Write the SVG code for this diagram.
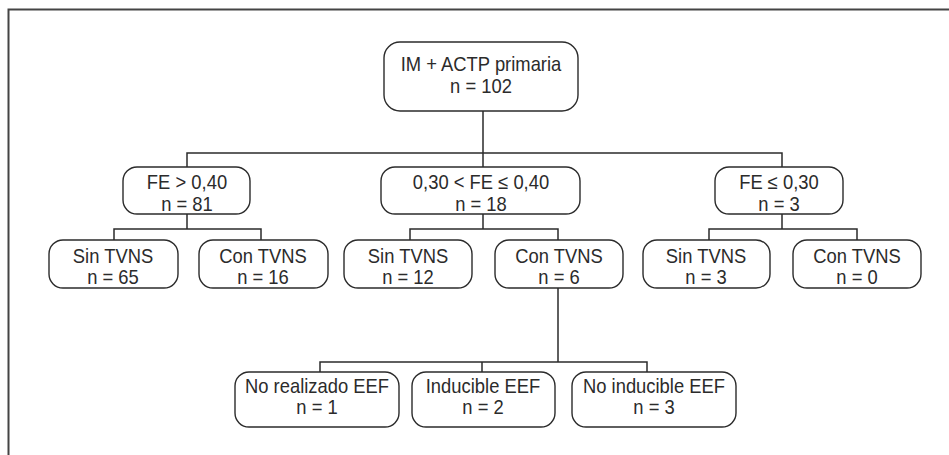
<svg xmlns="http://www.w3.org/2000/svg" width="949" height="455" viewBox="0 0 949 455">
<style>
.box{fill:#fff;stroke:#2b2b2b;stroke-width:1.4}
.t{font-family:"Liberation Sans",Arial,sans-serif;font-size:20px;fill:#2b2b2b;text-anchor:middle}
.c{fill:none;stroke:#2b2b2b;stroke-width:1.5}
</style>
<rect x="0" y="0" width="949" height="455" fill="#fff"/>
<path d="M8.5 456 V9.5 H950" fill="none" stroke="#444" stroke-width="2"/>
<g id="connectors" class="c">
<path d="M483 111 V153 M187 167 V153 H782 V167 M483 153 V167"/>
<path d="M187 214 V229 M114 240 V229 H261 V240"/>
<path d="M483 214 V229 M410 240 V229 H558 V240"/>
<path d="M782 214 V229 M709 240 V229 H857 V240"/>
<path d="M558 288 V362 M320 372 V362 H647 V372 M482 362 V372"/>
</g>
<g id="root"><rect class="box" x="384" y="42" width="194" height="69" rx="16"/>
<text class="t" transform="matrix(0.92 0 0 1 481 0)" y="71">IM + ACTP primaria</text><text class="t" transform="matrix(0.92 0 0 1 481 0)" y="93">n = 102</text></g>
<g id="fe_gt040"><rect class="box" x="123" y="167" width="127" height="47" rx="14"/>
<text class="t" transform="matrix(0.92 0 0 1 187 0)" y="189">FE &gt; 0,40</text><text class="t" transform="matrix(0.92 0 0 1 187 0)" y="211">n = 81</text></g>
<g id="fe_mid"><rect class="box" x="381" y="167" width="199" height="47" rx="14"/>
<text class="t" transform="matrix(0.92 0 0 1 481 0)" y="189">0,30 &lt; FE ≤ 0,40</text><text class="t" transform="matrix(0.92 0 0 1 481 0)" y="211">n = 18</text></g>
<g id="fe_le030"><rect class="box" x="715" y="167" width="128" height="47" rx="14"/>
<text class="t" transform="matrix(0.92 0 0 1 779 0)" y="189">FE ≤ 0,30</text><text class="t" transform="matrix(0.92 0 0 1 779 0)" y="211">n = 3</text></g>
<g id="sin65"><rect class="box" x="49" y="240" width="129" height="48" rx="14"/>
<text class="t" transform="matrix(0.92 0 0 1 113 0)" y="263">Sin TVNS</text><text class="t" transform="matrix(0.92 0 0 1 113 0)" y="284">n = 65</text></g>
<g id="con16"><rect class="box" x="199" y="240" width="129" height="48" rx="14"/>
<text class="t" transform="matrix(0.92 0 0 1 263 0)" y="263">Con TVNS</text><text class="t" transform="matrix(0.92 0 0 1 263 0)" y="284">n = 16</text></g>
<g id="sin12"><rect class="box" x="344" y="240" width="128" height="48" rx="14"/>
<text class="t" transform="matrix(0.92 0 0 1 408 0)" y="263">Sin TVNS</text><text class="t" transform="matrix(0.92 0 0 1 408 0)" y="284">n = 12</text></g>
<g id="con6"><rect class="box" x="495" y="240" width="128" height="48" rx="14"/>
<text class="t" transform="matrix(0.92 0 0 1 559 0)" y="263">Con TVNS</text><text class="t" transform="matrix(0.92 0 0 1 559 0)" y="284">n = 6</text></g>
<g id="sin3"><rect class="box" x="643" y="240" width="127" height="48" rx="14"/>
<text class="t" transform="matrix(0.92 0 0 1 706 0)" y="263">Sin TVNS</text><text class="t" transform="matrix(0.92 0 0 1 706 0)" y="284">n = 3</text></g>
<g id="con0"><rect class="box" x="793" y="240" width="128" height="48" rx="14"/>
<text class="t" transform="matrix(0.92 0 0 1 857 0)" y="263">Con TVNS</text><text class="t" transform="matrix(0.92 0 0 1 857 0)" y="284">n = 0</text></g>
<g id="noreal"><rect class="box" x="235" y="372" width="164" height="55" rx="14"/>
<text class="t" transform="matrix(0.92 0 0 1 317 0)" y="393">No realizado EEF</text><text class="t" transform="matrix(0.92 0 0 1 317 0)" y="414">n = 1</text></g>
<g id="induc"><rect class="box" x="412" y="372" width="143" height="55" rx="14"/>
<text class="t" transform="matrix(0.92 0 0 1 483 0)" y="393">Inducible EEF</text><text class="t" transform="matrix(0.92 0 0 1 483 0)" y="414">n = 2</text></g>
<g id="noinduc"><rect class="box" x="572" y="372" width="164" height="55" rx="14"/>
<text class="t" transform="matrix(0.92 0 0 1 654 0)" y="393">No inducible EEF</text><text class="t" transform="matrix(0.92 0 0 1 654 0)" y="414">n = 3</text></g>
</svg>
